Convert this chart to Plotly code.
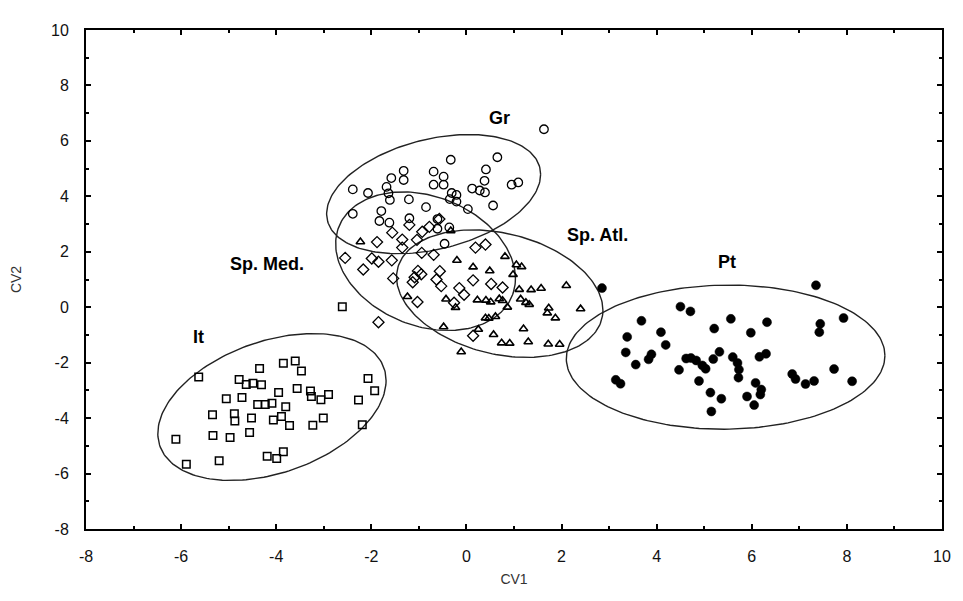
import numpy as np
import plotly.graph_objects as go

# ---- data (CV1, CV2 scores) ----
gr_x = [1.63, -0.33, 0.65, 0.41, 0.38, 0.28, 0.12, 0.39, 0.95, 1.09, 0.56, -0.69, -0.48, -0.69, -0.48,
        -1.32, -1.58, -1.32, -1.68, -1.64, -1.61, -1.21, -2.39, -2.07, -0.31, -0.21, -0.35, -0.21, 0.03,
        -0.85, -1.79, -1.62, -1.83, -0.61, -0.36, -0.46, -2.39, -0.61, -1.20]
gr_y = [6.42, 5.32, 5.41, 4.97, 4.56, 4.21, 4.28, 4.14, 4.42, 4.50, 3.67, 4.89, 4.71, 4.42, 4.42,
        4.92, 4.66, 4.59, 4.34, 4.11, 3.87, 3.89, 4.25, 4.12, 4.12, 4.05, 3.90, 3.81, 3.54,
        3.61, 3.47, 3.05, 3.11, 3.18, 2.88, 2.29, 3.37, 2.83, 3.21]

med_x = [-1.20, -1.56, -1.35, -0.93, -0.78, -1.04, -1.88, -1.99, -1.85, -2.17, -2.55, -1.57, -1.54, -1.35,
         -0.94, -0.69, -1.02, -1.09, -0.95, -0.56, -0.63, -0.53, -0.15, -0.05, 0.14, -0.26, -1.03, -1.85,
         0.14, 0.19, 0.40, -1.13, 0.52, 0.76, -0.57]
med_y = [2.97, 2.69, 2.44, 2.72, 2.90, 2.43, 2.35, 1.76, 1.64, 1.36, 1.78, 1.69, 1.04, 2.15,
         1.96, 1.89, 1.31, 1.08, 1.19, 1.30, 1.00, 0.76, 0.69, 0.45, 0.97, 0.16, 0.19, -0.54,
         -1.03, 2.15, 2.26, 0.90, 0.84, 0.71, 3.18]

atl_x = [-2.23, -0.20, 0.14, 0.49, -1.24, -0.43, -0.23, 0.23, 0.41, 0.40, 0.57, -0.48, 0.25, -0.11,
         0.81, 1.05, 1.16, 0.98, 1.11, 1.36, 1.57, 2.10, 0.51, 0.69, 0.76, 0.86, 1.14, 1.25, 1.32,
         1.73, 1.70, 1.87, 2.40, 0.61, 0.74, 0.91, 1.20, 1.30, 1.72, 1.96, -0.33, 0.47]
atl_y = [2.36, 1.69, 1.45, 1.31, 0.38, 0.29, -0.01, 0.26, 0.25, -0.39, -0.99, -0.71, -0.80, -1.61,
         1.83, 1.53, 1.46, 1.18, 0.64, 0.63, 0.68, 0.78, 0.19, 0.30, 0.24, 0.00, 0.29, 0.17, 0.10,
         -0.03, -0.21, -0.39, -0.06, -0.34, -1.29, -1.30, -0.78, -1.25, -1.33, -1.34, 2.76, -0.40]

it_x = [-5.63, -4.35, -3.85, -3.60, -3.47, -4.78, -4.63, -4.49, -4.31, -3.95, -5.05, -4.72, -4.39, -4.23,
        -4.09, -3.80, -3.56, -3.28, -3.26, -3.06, -2.90, -2.27, -2.07, -1.93, -5.34, -4.88, -4.87, -4.52,
        -4.06, -3.89, -3.72, -3.23, -3.01, -2.19, -5.33, -4.97, -4.56, -6.11, -5.20, -4.19, -3.99, -3.85,
        -5.89, -2.61]
it_y = [-2.52, -2.21, -2.02, -1.94, -2.30, -2.61, -2.79, -2.74, -2.80, -3.08, -3.30, -3.26, -3.51, -3.51,
        -3.46, -3.59, -2.93, -3.02, -3.22, -3.34, -3.15, -3.35, -2.57, -3.01, -3.88, -3.84, -4.10, -4.00,
        -4.07, -3.94, -4.27, -4.26, -4.00, -4.24, -4.63, -4.70, -4.52, -4.76, -5.54, -5.38, -5.46, -5.21,
        -5.66, 0.02]

pt_x = [2.85, 7.35, 4.50, 4.71, 3.68, 5.56, 6.32, 5.21, 5.98, 4.09, 7.44, 7.42, 7.93, 3.38, 4.19, 3.35,
        3.89, 3.83, 3.56, 4.62, 4.72, 4.83, 4.96, 5.03, 4.47, 5.19, 5.32, 5.60, 5.70, 5.73, 5.72, 6.16,
        6.30, 4.89, 5.13, 5.36, 5.15, 5.90, 6.05, 6.08, 6.20, 6.18, 6.85, 6.92, 7.13, 7.31, 7.73, 8.11,
        3.14, 3.24]
pt_y = [0.69, 0.79, 0.02, -0.15, -0.49, -0.42, -0.54, -0.77, -0.92, -0.90, -0.60, -0.90, -0.39, -1.07,
        -1.36, -1.63, -1.70, -1.88, -2.07, -1.85, -1.83, -1.92, -2.10, -2.22, -2.26, -1.87, -1.61, -1.80,
        -2.01, -2.25, -2.54, -1.79, -1.68, -2.66, -3.08, -3.30, -3.76, -3.22, -3.53, -2.73, -2.97, -3.15,
        -2.41, -2.59, -2.77, -2.66, -2.23, -2.67, -2.62, -2.76]

# confidence ellipses: centre, spread along CV1 / CV2, correlation
groups = ["Gr", "Sp. Med.", "Sp. Atl.", "Pt", "It"]
ell_cx = [-0.69, -0.86, 0.70, 5.45, -4.09]
ell_cy = [4.08, 1.66, 0.49, -1.80, -3.60]
ell_sx = [2.25, 1.89, 2.17, 3.35, 2.40]
ell_sy = [2.15, 2.50, 2.30, 2.60, 2.65]
ell_r = [0.33, -0.25, -0.26, 0.02, 0.36]

# group label positions
label_x = [0.70, -4.20, 2.75, 5.47, -5.64]
label_y = [6.81, 1.55, 2.59, 1.64, -1.08]

x_ticks = [-8, -6, -4, -2, 0, 2, 4, 6, 8, 10]
y_ticks = [-8, -6, -4, -2, 0, 2, 4, 6, 8, 10]

fig = go.Figure()

t = np.linspace(0, 2 * np.pi, 200)
for cx, cy, sx, sy, r in zip(ell_cx, ell_cy, ell_sx, ell_sy, ell_r):
    ex = cx + sx * np.cos(t)
    ey = cy + sy * (r * np.cos(t) + np.sqrt(1 - r * r) * np.sin(t))
    fig.add_trace(go.Scatter(x=ex, y=ey, mode="lines",
                             line=dict(color="#222222", width=1.4), hoverinfo="skip"))

def pts(x, y, symbol, size, lw=1.3, color="black"):
    fig.add_trace(go.Scatter(x=x, y=y, mode="markers",
                             marker=dict(symbol=symbol, size=size, color=color,
                                         line=dict(color="black", width=lw))))

pts(gr_x, gr_y, "circle-open", 8.5)
pts(med_x, med_y, "diamond-open", 8.5)
pts(atl_x, atl_y, "triangle-up-open", 7.5, lw=1.6)
pts(it_x, it_y, "square-open", 7.5, lw=1.5)
pts(pt_x, pt_y, "circle", 9, lw=0.5)

for name, lx, ly in zip(groups, label_x, label_y):
    fig.add_annotation(x=lx, y=ly, text="<b>%s</b>" % name, showarrow=False,
                       font=dict(family="Liberation Sans Narrow, Liberation Sans, Arial", size=18,
                                 color="black"))

axis_common = dict(showgrid=False, zeroline=False, showline=True, linecolor="black", linewidth=2,
                   mirror="ticks", ticks="inside", ticklen=5, tickwidth=1.5, tickcolor="black",
                   minor=dict(ticks="inside", ticklen=3, tickcolor="black", dtick=1),
                   tickfont=dict(family="Liberation Sans, Arial", size=16, color="#111111"))

fig.update_xaxes(range=[-8, 10], tickvals=x_ticks, ticktext=[str(v) for v in x_ticks],
                 title=dict(text="CV1", font=dict(family="Liberation Sans, Arial", size=14,
                                                   color="#333333"), standoff=10),
                 ticklabelstandoff=12, **axis_common)
fig.update_yaxes(range=[-8, 10], tickvals=y_ticks, ticktext=[str(v) for v in y_ticks],
                 title=dict(text="CV2", font=dict(family="Liberation Sans, Arial", size=14,
                                                   color="#333333"), standoff=26),
                 ticklabelstandoff=12, **axis_common)

fig.update_layout(width=963, height=601, showlegend=False,
                  margin=dict(l=86, r=15, t=30, b=72),
                  plot_bgcolor="white", paper_bgcolor="white")

fig.write_html("out.html")
